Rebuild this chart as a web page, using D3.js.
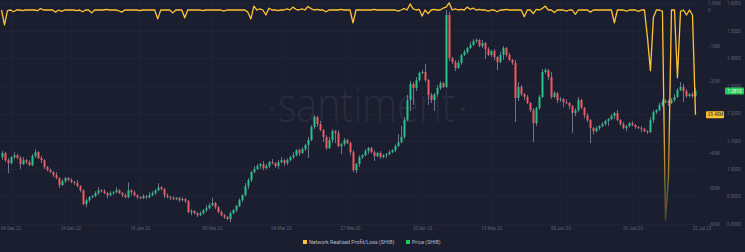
<!DOCTYPE html>
<html>
<head>
<meta charset="utf-8">
<script src="https://cdn.jsdelivr.net/npm/d3@7"></script>
<style>
  html, body { margin: 0; padding: 0; background: #1b1e2e; }
  svg { display: block; font-family: Roboto, 'Noto Sans', sans-serif; }
</style>
</head>
<body>
<svg id="chart" width="745" height="252"></svg>
<script>
'use strict';
// daily candles, first day
const START_DATE = '2022-12-01';
const FIRST_OPEN = 1.042;

const CLOSES = [
  1.057, 1.031, 1.020, 1.042, 1.049, 1.039, 1.017, 1.031, 1.024, 1.013,
  1.046, 1.060, 1.039, 1.031, 1.006, 0.995, 0.988, 0.977, 0.966, 0.941,
  0.955, 0.966, 0.959, 0.952, 0.948, 0.937, 0.922, 0.872, 0.886, 0.897,
  0.901, 0.912, 0.922, 0.919, 0.912, 0.904, 0.912, 0.915, 0.922, 0.912,
  0.904, 0.897, 0.922, 0.915, 0.904, 0.897, 0.894, 0.901, 0.897, 0.904,
  0.912, 0.922, 0.933, 0.926, 0.904, 0.897, 0.894, 0.890, 0.894, 0.886,
  0.890, 0.883, 0.843, 0.847, 0.839, 0.832, 0.839, 0.850, 0.857, 0.868,
  0.876, 0.861, 0.843, 0.832, 0.825, 0.818, 0.839, 0.850, 0.865, 0.886,
  0.904, 0.937, 0.959, 0.988, 0.999, 1.010, 1.017, 1.002, 1.010, 1.024,
  1.020, 1.010, 1.024, 1.031, 1.020, 1.031, 1.042, 1.049, 1.067, 1.057,
  1.071, 1.086, 1.104, 1.151, 1.187, 1.162, 1.140, 1.115, 1.075, 1.104,
  1.136, 1.129, 1.082, 1.089, 1.104, 1.093, 1.060, 0.995, 1.017, 1.042,
  1.049, 1.064, 1.075, 1.060, 1.046, 1.057, 1.042, 1.049, 1.053, 1.060,
  1.067, 1.082, 1.096, 1.115, 1.176, 1.249, 1.307, 1.292, 1.321, 1.347,
  1.350, 1.321, 1.267, 1.249, 1.270, 1.292, 1.310, 1.296, 1.557, 1.401,
  1.386, 1.365, 1.383, 1.412, 1.423, 1.437, 1.448, 1.462, 1.466, 1.444,
  1.455, 1.433, 1.412, 1.426, 1.404, 1.386, 1.412, 1.437, 1.412, 1.394,
  1.383, 1.256, 1.296, 1.270, 1.260, 1.238, 1.212, 1.165, 1.220, 1.260,
  1.350, 1.357, 1.332, 1.260, 1.274, 1.249, 1.252, 1.241, 1.238, 1.227,
  1.202, 1.212, 1.249, 1.220, 1.194, 1.176, 1.147, 1.136, 1.147, 1.154,
  1.162, 1.173, 1.180, 1.191, 1.202, 1.176, 1.162, 1.147, 1.154, 1.165,
  1.158, 1.151, 1.147, 1.144, 1.136, 1.133, 1.176, 1.205, 1.212, 1.231,
  1.241, 1.245, 1.238, 1.249, 1.260, 1.285, 1.296, 1.281, 1.263, 1.270,
  1.263, 1.281
];

// wick length above / below the candle body
const WICK_UP = [
  .007, .004, .007, .004, .011, .004, .007, .011, .004, .007,
  .007, .011, .004, .007, .004, .004, .007, .004, .011, .004,
  .007, .004, .004, .007, .004, .011, .004, .004, .007, .004,
  .004, .007, .011, .004, .007, .004, .007, .004, .011, .004,
  .004, .007, .029, .004, .007, .004, .004, .007, .004, .011,
  .007, .004, .015, .004, .004, .007, .004, .007, .004, .004,
  .007, .004, .004, .007, .004, .004, .007, .004, .011, .007,
  .018, .004, .004, .007, .004, .004, .007, .004, .004, .007,
  .004, .011, .007, .004, .011, .007, .004, .011, .007, .004,
  .011, .004, .007, .011, .004, .007, .004, .011, .004, .007,
  .007, .004, .011, .007, .007, .004, .011, .004, .007, .011,
  .007, .004, .011, .004, .007, .004, .004, .007, .004, .007,
  .004, .007, .004, .004, .007, .004, .007, .004, .004, .007,
  .004, .007, .029, .040, .011, .018, .011, .007, .011, .004,
  .007, .029, .004, .007, .004, .011, .007, .004, .018, .011,
  .004, .007, .011, .004, .007, .004, .011, .007, .007, .004,
  .011, .004, .007, .004, .007, .004, .011, .007, .004, .007,
  .004, .011, .018, .007, .004, .007, .004, .007, .004, .007,
  .011, .007, .004, .018, .007, .004, .007, .004, .011, .004,
  .004, .007, .011, .004, .004, .007, .004, .004, .007, .004,
  .007, .004, .004, .007, .004, .011, .004, .007, .004, .004,
  .007, .004, .004, .007, .004, .004, .011, .007, .004, .007,
  .011, .007, .004, .007, .011, .007, .018, .011, .007, .004,
  .007, .011
];

const WICK_DOWN = [
  .011, .007, .036, .004, .007, .004, .018, .004, .007, .004,
  .004, .007, .004, .011, .007, .004, .004, .007, .004, .011,
  .004, .007, .004, .004, .007, .004, .007, .004, .011, .007,
  .004, .004, .007, .004, .004, .011, .004, .007, .004, .004,
  .007, .004, .004, .011, .004, .007, .004, .004, .007, .004,
  .004, .007, .004, .004, .011, .004, .007, .004, .004, .007,
  .004, .007, .004, .011, .004, .007, .004, .004, .007, .004,
  .004, .007, .004, .004, .007, .004, .011, .004, .007, .004,
  .007, .004, .011, .007, .004, .004, .011, .007, .004, .007,
  .004, .007, .011, .004, .011, .007, .004, .007, .004, .011,
  .004, .007, .047, .004, .007, .011, .004, .018, .007, .004,
  .011, .036, .004, .029, .007, .004, .011, .007, .011, .011,
  .007, .004, .011, .004, .018, .004, .007, .004, .011, .004,
  .004, .007, .004, .004, .007, .004, .040, .060, .011, .007,
  .004, .007, .036, .011, .040, .011, .007, .004, .004, .011,
  .007, .011, .004, .007, .004, .007, .004, .004, .007, .004,
  .007, .036, .004, .007, .011, .029, .004, .018, .007, .004,
  .007, .087, .011, .007, .011, .004, .007, .069, .011, .007,
  .004, .007, .011, .007, .004, .011, .007, .018, .004, .011,
  .072, .011, .007, .004, .011, .007, .054, .011, .004, .007,
  .004, .007, .018, .004, .011, .004, .007, .004, .011, .004,
  .004, .007, .004, .011, .004, .007, .004, .011, .007, .004,
  .007, .004, .011, .004, .007, .004, .004, .040, .007, .004,
  .007, .004
];

// network realized profit/loss, millions
const NRPL = [
  0, -4.2, -0.2, 0, -0.5, 0, 0, -0.2, 0, 0,
  0, 0, -0.2, 0.4, 0, 0, 0, 0, -0.6, 0,
  -0.4, 0, 0, 0, 0, -0.2, 0, -0.5, 0, 0,
  -0.8, 0, 0, 0, 0, 0.2, 0, 0, 0, -0.2,
  -0.6, 0, 0, 0, 0, 0, -0.2, 0, 0, 0,
  0, 0, -2.5, 0, 0, 0, 0, -0.8, 0, 0,
  0, -2.2, 0, 0, 0, 0, 0, -0.2, 0, 0,
  0, 0, 0, 0, -0.3, 0, 0, 0, 0, 0,
  0, 0, -0.6, -2.5, 1.1, 0, 0.3, 0, -1.4, 0.5,
  0, 0, -0.2, 0, 0, 0.3, 0, 0.8, 0.2, 0,
  0.3, 0, 1.0, 0.4, 0, 0.2, 0, 0, -0.5, 0,
  0, 0, 0, 0.2, 0, 0, 0, -3.6, 0, 0,
  0, 0, 0, 0, 0.2, 0, 0, 0, 0, 0,
  0, 0, -0.3, 0, 0.4, 0, 1.7, 0.3, 0, 0.2,
  -1.7, 0, -1.0, 0, 0.2, 0, 0, 0.5, 0.8, 2.0,
  0, 0.3, 0, 0.2, 0, 0.8, 0.2, 0.5, 0, 0.2,
  0, 0, -0.3, 0, 0, -0.5, 0, 0, 0.2, 0,
  0, 0, 0, 0, -1.9, 0, 0, -1.0, 0.2, 0,
  0.4, 1.1, 0, 0, -0.7, 0, 0, 0, -0.3, 0,
  0, -1.2, 0, 0, 0, 0, -0.6, 0, 0, 0,
  0, 0, 0, 0, -3.6, 0, 0, 0, -0.3, 0,
  0, 0, -0.4, 0, 0, -7.6, -17, -2.0, 0, 0,
  -0.4, -59, -47, 0, 0, -19, -0.4, 0, -1.4, 0,
  -1.4, -29.4
];

const PRICE_TICKS = [0.8, 0.9, 1.0, 1.1, 1.2, 1.3, 1.4, 1.5, 1.6];
const NRPL_TICKS = [1.96, 0, -10, -20, -30, -40, -50, -60];
const DATE_TICKS = [
  '2022-12-04', '2022-12-24', '2023-01-16', '2023-02-09', '2023-03-04',
  '2023-03-27', '2023-04-20', '2023-05-13', '2023-06-05', '2023-06-29',
  '2023-07-22'
];

const BG = '#1b1e2e';
const UP = '#27c48a';
const DOWN = '#ef5a5f';
const WICK = '#6c7394';
const YELLOW = '#ffc233';
const GREEN = '#26c953';
const AXIS_TEXT = '#5d627b';

const plot = { left: 0, right: 697, top: 0, bottom: 224 };

const parse = d3.utcParse('%Y-%m-%d');
const start = parse(START_DATE);
const DAY = 864e5;
const candles = CLOSES.map((c, i) => {
  const open = i === 0 ? FIRST_OPEN : CLOSES[i - 1];
  return {
    date: new Date(start.getTime() + i * DAY),
    open,
    close: c,
    high: Math.max(open, c) + WICK_UP[i],
    low: Math.min(open, c) - WICK_DOWN[i],
    nrpl: NRPL[i]
  };
});
const last = candles[candles.length - 1];

const svg = d3.select('#chart');
svg.append('rect').attr('width', 745).attr('height', 252).attr('fill', BG);

const x = d3.scaleUtc()
  .domain([new Date(start.getTime() - DAY / 2),
           new Date(start.getTime() + (CLOSES.length - 0.5) * DAY)])
  .range([plot.left, plot.right]);
const yPrice = d3.scaleLinear().domain([0.8, 1.6]).range([224, 3]);
const yNrpl = d3.scaleLinear().domain([-60, 0]).range([224, 10]);

// grid
const tickDates = DATE_TICKS.map(parse);
svg.append('g')
  .selectAll('line')
  .data(PRICE_TICKS)
  .enter()
  .append('line')
  .attr('x1', 0).attr('x2', plot.right)
  .attr('y1', (d) => Math.round(yPrice(d)) + 0.5)
  .attr('y2', (d) => Math.round(yPrice(d)) + 0.5)
  .attr('stroke', '#202536');
svg.append('g')
  .selectAll('line')
  .data(tickDates.filter((d) => x(d) < plot.right))
  .enter()
  .append('line')
  .attr('x1', (d) => Math.round(x(d)) + 0.5)
  .attr('x2', (d) => Math.round(x(d)) + 0.5)
  .attr('y1', 0).attr('y2', 224)
  .attr('stroke', '#21263a')
  .attr('stroke-dasharray', '2,2');

// watermark
const wm = svg.append('g').attr('fill', '#282c40');
wm.append('text')
  .attr('x', 278).attr('y', 122)
  .attr('textLength', 177)
  .attr('lengthAdjust', 'spacingAndGlyphs')
  .style('font-family', "'Open Sans', sans-serif")
  .style('font-weight', 300)
  .style('font-size', '48px')
  .text('santiment');
wm.selectAll('circle')
  .data([272, 463])
  .enter()
  .append('circle')
  .attr('cx', (d) => d).attr('cy', 109).attr('r', 2);

// candles
const bw = 2;
const cg = svg.append('g');
cg.selectAll('line')
  .data(candles)
  .enter()
  .append('line')
  .attr('x1', (d) => Math.round(x(d.date)) + 0.5)
  .attr('x2', (d) => Math.round(x(d.date)) + 0.5)
  .attr('y1', (d) => yPrice(d.high))
  .attr('y2', (d) => yPrice(d.low))
  .attr('stroke', WICK)
  .attr('stroke-width', 1);
cg.selectAll('rect')
  .data(candles)
  .enter()
  .append('rect')
  .attr('x', (d) => Math.round(x(d.date)) - bw / 2 + 0.5)
  .attr('width', bw)
  .attr('y', (d) => yPrice(Math.max(d.open, d.close)))
  .attr('height', (d) => Math.max(1, Math.abs(yPrice(d.open) - yPrice(d.close))))
  .attr('fill', (d) => (d.close >= d.open ? UP : DOWN));

// NRPL line, fading towards the bottom
const grad = svg.append('defs').append('linearGradient')
  .attr('id', 'nrplGrad')
  .attr('gradientUnits', 'userSpaceOnUse')
  .attr('x1', 0).attr('x2', 0).attr('y1', 0).attr('y2', 224);
grad.append('stop').attr('offset', 0).attr('stop-color', YELLOW);
grad.append('stop').attr('offset', 0.5).attr('stop-color', YELLOW);
grad.append('stop').attr('offset', 1).attr('stop-color', YELLOW).attr('stop-opacity', 0.2);

const line = d3.line()
  .x((d) => x(d.date))
  .y((d) => yNrpl(d.nrpl));
svg.append('path')
  .datum(candles)
  .attr('fill', 'none')
  .attr('stroke', 'url(#nrplGrad)')
  .attr('stroke-width', 1.3)
  .attr('stroke-linejoin', 'round')
  .attr('d', line);

// axes
const styleAxis = (g) =>
  g.call((g) => g.select('.domain').remove())
    .call((g) => g.selectAll('.tick line').remove())
    .call((g) =>
      g.selectAll('.tick text')
        .attr('fill', AXIS_TEXT)
        .style('font-size', '4.5px')
        .style('font-family', 'Roboto, sans-serif')
    );

svg.append('g')
  .attr('transform', 'translate(727,0)')
  .call(d3.axisRight(yPrice).tickValues(PRICE_TICKS).tickSize(0).tickPadding(0)
    .tickFormat((d) => d.toFixed(4)))
  .call(styleAxis);

// NRPL labels hidden where the last-value tag sits
const nrplTicks = NRPL_TICKS.filter((v) => Math.abs(yNrpl(v) - yNrpl(last.nrpl)) > 6);
svg.append('g')
  .attr('transform', 'translate(708,0)')
  .call(d3.axisRight(yNrpl).tickValues(nrplTicks).tickSize(0).tickPadding(0)
    .tickFormat((d) => (d === 0 ? '0' : d3.format('.3~')(d) + 'M')))
  .call(styleAxis);

svg.append('g')
  .attr('transform', 'translate(0,227)')
  .call(d3.axisBottom(x).tickValues(tickDates).tickSize(0).tickPadding(0)
    .tickFormat(d3.utcFormat('%d %b %y')))
  .call(styleAxis);

// last value tags
const pTag = svg.append('g')
  .attr('transform', `translate(725,${yPrice(last.close) - 3.5})`);
pTag.append('rect').attr('width', 19).attr('height', 7).attr('rx', 1).attr('fill', GREEN);
pTag.append('text')
  .attr('x', 9.5).attr('y', 5.1)
  .attr('text-anchor', 'middle')
  .attr('fill', '#ffffff')
  .style('font-size', '4.5px')
  .text(last.close.toFixed(4));

const nTag = svg.append('g')
  .attr('transform', `translate(706,${yNrpl(last.nrpl) - 3.5})`);
nTag.append('rect').attr('width', 18).attr('height', 7).attr('rx', 1).attr('fill', YELLOW);
nTag.append('text')
  .attr('x', 9).attr('y', 5.1)
  .attr('text-anchor', 'middle')
  .attr('fill', BG)
  .style('font-size', '4.5px')
  .text(last.nrpl.toFixed(2) + 'M');

// legend
const legend = [
  { label: 'Network Realized Profit/Loss (SHIB)', color: YELLOW, x: 303 },
  { label: 'Price (SHIB)', color: GREEN, x: 406 }
];
const lg = svg.append('g')
  .selectAll('g')
  .data(legend)
  .enter()
  .append('g')
  .attr('transform', (d) => `translate(${d.x},240)`);
lg.append('rect').attr('width', 4).attr('height', 4).attr('fill', (d) => d.color);
lg.append('text')
  .attr('x', 6).attr('y', 4)
  .attr('fill', '#b9bccc')
  .style('font-size', '5.3px')
  .text((d) => d.label);
</script>
</body>
</html>
